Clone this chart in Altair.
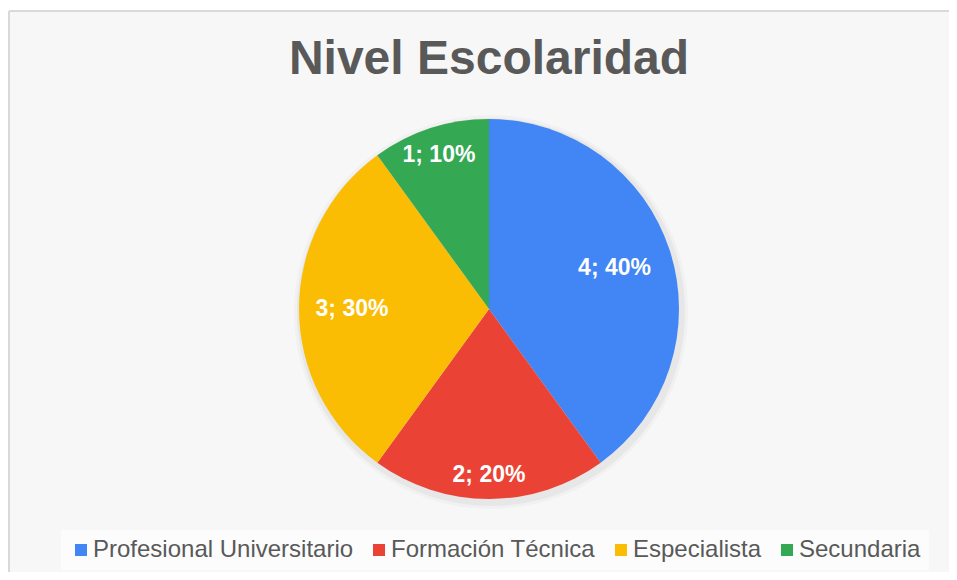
import altair as alt
import pandas as pd

categories = ["Profesional Universitario", "Formación Técnica", "Especialista", "Secundaria"]
counts = [4, 2, 3, 1]
percents = ["40%", "20%", "30%", "10%"]
colors = ["#4285F4", "#EA4335", "#FBBC04", "#34A853"]
label_radius = [132, 166, 137, 162]

df = pd.DataFrame({
    "cat": categories,
    "n": counts,
    "order": list(range(len(categories))),
    "label": [f"{c}; {p}" for c, p in zip(counts, percents)],
    "lr": label_radius,
})
total = df["n"].sum()
df["mid"] = df["n"].cumsum() - df["n"] / 2

W, H = 941, 564
CX, CY, R = 480, 301, 190
FONT = "Liberation Sans"
GREY = "#595959"

one = pd.DataFrame({"k": [1]})

bg = alt.Chart(one).mark_rect(fill="#f7f7f7").encode(
    x=alt.value(0), x2=alt.value(W), y=alt.value(3), y2=alt.value(H)
)
frame_top = alt.Chart(one).mark_rule(color="#d9d9d9", strokeWidth=2).encode(
    x=alt.value(0), x2=alt.value(W), y=alt.value(3)
)
frame_left = alt.Chart(one).mark_rule(color="#d9d9d9", strokeWidth=2).encode(
    x=alt.value(0), y=alt.value(3), y2=alt.value(H)
)

shadow1 = alt.Chart(one).mark_arc(outerRadius=R + 7, fill="#000000", opacity=0.025).encode(
    theta=alt.Theta("k:Q"), x=alt.value(CX + 2), y=alt.value(CY + 3)
)
shadow2 = alt.Chart(one).mark_arc(outerRadius=R + 4, fill="#000000", opacity=0.04).encode(
    theta=alt.Theta("k:Q"), x=alt.value(CX + 2), y=alt.value(CY + 3)
)

pie = alt.Chart(df).mark_arc(outerRadius=R).encode(
    theta=alt.Theta("n:Q", stack=True),
    order=alt.Order("order:Q"),
    color=alt.Color(
        "cat:N",
        scale=alt.Scale(domain=categories, range=colors),
        sort=categories,
        legend=alt.Legend(
            title=None,
            orient="none",
            direction="horizontal",
            legendX=52,
            legendY=522,
            symbolType="square",
            symbolSize=144,
            symbolStrokeWidth=0,
            symbolOpacity=1,
            labelFont=FONT,
            labelFontSize=24,
            labelColor=GREY,
            labelOffset=0,
            labelLimit=400,
            columnPadding=13,
            padding=8,
            fillColor="#fcfcfc",
        ),
    ),
    x=alt.value(CX),
    y=alt.value(CY),
)

labels = alt.Chart(df).mark_text(
    font=FONT, fontSize=23, fontWeight="bold", color="white", baseline="middle", align="center"
).encode(
    theta=alt.Theta("mid:Q", stack=None, scale=alt.Scale(domain=[0, int(total)], range=[0, 6.283185307179586])),
    radius=alt.Radius("lr:Q", scale=None),
    text="label:N",
    x=alt.value(CX),
    y=alt.value(CY),
)

title = alt.Chart(pd.DataFrame({"t": ["Nivel Escolaridad"]})).mark_text(
    font=FONT, fontSize=48, fontWeight="bold", color=GREY, baseline="middle", align="center"
).encode(text="t:N", x=alt.value(CX), y=alt.value(52))

chart = alt.layer(bg, frame_top, frame_left, shadow1, shadow2, pie, labels, title).resolve_scale(
    theta="independent"
).properties(
    width=W,
    height=H,
    padding=0,
    background="white",
    autosize=alt.AutoSizeParams(type="fit", contains="padding"),
).configure_view(stroke=None)

chart.save("out.html", embed_options={"renderer": "svg", "actions": False})
